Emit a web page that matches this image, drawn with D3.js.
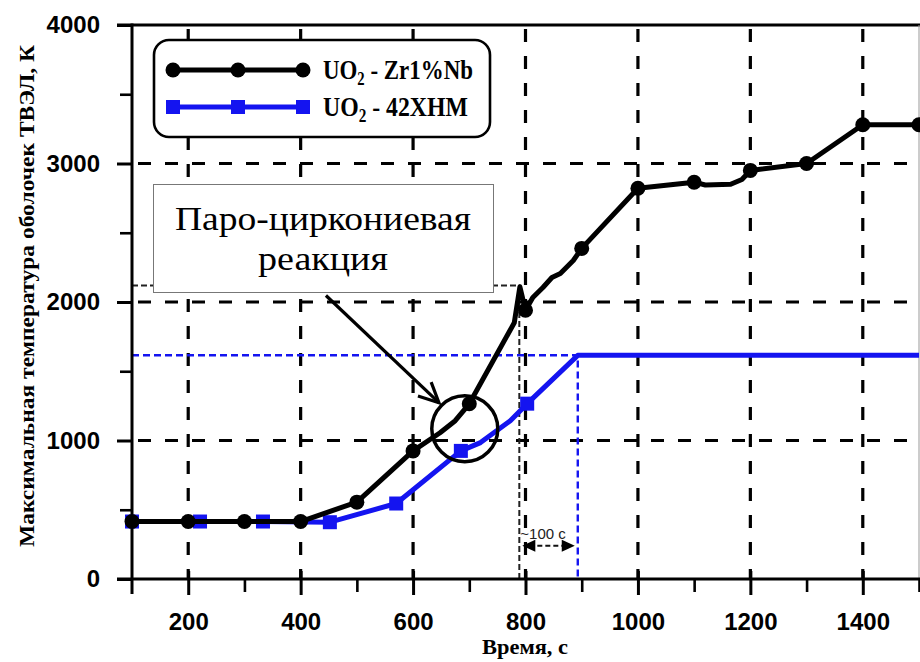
<!DOCTYPE html>
<html>
<head>
<meta charset="utf-8">
<script src="https://cdn.jsdelivr.net/npm/d3@7"></script>
<style>
  body { margin: 0; background: #fff; }
  svg { display: block; }
</style>
</head>
<body>
<div id="chart"></div>
<script>
// UO2 - Zr1%Nb cladding temperature (line points, incl. bends between markers)
const zrTime = [100, 200, 300, 400, 500, 600, 648, 675, 700, 780, 790, 800, 813, 831, 847, 862, 885, 900, 1000, 1100, 1120, 1165, 1185, 1200, 1300, 1400, 1500];
const zrTemp = [415, 415, 415, 415, 555, 925, 1056, 1143, 1265, 1850, 2110, 1940, 2033, 2105, 2177, 2206, 2300, 2387, 2821, 2865, 2845, 2850, 2885, 2950, 3000, 3280, 3280];
// marker points
const zrMarkTime = [100, 200, 300, 400, 500, 600, 700, 800, 900, 1000, 1100, 1200, 1300, 1400, 1500];
const zrMarkTemp = [415, 415, 415, 415, 555, 925, 1265, 1940, 2387, 2821, 2865, 2950, 3000, 3280, 3280];

// UO2 - 42XHM cladding temperature
const xhmTime = [100, 221, 333, 452, 570, 685, 720, 773, 803, 893, 1500];
const xhmTemp = [415, 415, 415, 410, 545, 925, 985, 1143, 1266, 1615, 1615];
const xhmMarkTime = [100, 221, 333, 452, 570, 685, 803];
const xhmMarkTemp = [415, 415, 415, 410, 545, 925, 1266];

// reference lines (dashed): black one at Zr reaction point, blue one at 42XHM plateau
const zrRef = { time: 789, temp: 2120 };
const xhmRef = { time: 893, temp: 1615 };

// axis ticks
const xMajor = [200, 400, 600, 800, 1000, 1200, 1400];
const xMinor = [300, 500, 700, 900, 1100, 1300, 1500];
const yMajor = [0, 1000, 2000, 3000, 4000];
const yMinor = [500, 1500, 2500, 3500];
const yGrid = [1000, 2000, 3000];

const legendLabels = ['UO', 'UO'];
const legendRest = [' - Zr1%Nb', ' - 42XHM'];

const W = 920, H = 662;
const numFont = "'Liberation Sans', Arial, sans-serif";
const serifFont = "'Liberation Serif', 'Times New Roman', serif";
const BLUE = '#1414f0';

const svg = d3.select('#chart').append('svg')
    .attr('width', W)
    .attr('height', H);

const x = d3.scaleLinear().domain([100, 1500]).range([132, 919]);
const y = d3.scaleLinear().domain([0, 4000]).range([579, 25]);

// squeeze a text horizontally so it takes a given width (the source fonts are narrow)
function fitWidth(sel, w, ax) {
    const len = sel.node().getComputedTextLength();
    const k = w / len;
    sel.attr('transform', `translate(${ax},0) scale(${k},1) translate(${-ax},0)`);
}

// grid
const grid = svg.append('g').attr('class', 'grid');
grid.selectAll('line.vg').data(xMajor).join('line')
    .attr('class', 'vg')
    .attr('x1', d => x(d)).attr('x2', d => x(d))
    .attr('y1', y(4000)).attr('y2', y(0))
    .attr('stroke', '#000').attr('stroke-width', 3.2)
    .attr('stroke-dasharray', '13,14')
    .attr('stroke-dashoffset', -4);
grid.selectAll('line.hg').data(yGrid).join('line')
    .attr('class', 'hg')
    .attr('x1', x(100)).attr('x2', x(1500))
    .attr('y1', d => y(d)).attr('y2', d => y(d))
    .attr('stroke', '#000').attr('stroke-width', 3.2)
    .attr('stroke-dasharray', '13,14')
    .attr('stroke-dashoffset', -6);

// reference dashed lines
svg.append('path')
    .attr('d', `M${x(100)},${y(zrRef.temp)} H${x(zrRef.time)} V${y(0)}`)
    .attr('fill', 'none').attr('stroke', '#222').attr('stroke-width', 2)
    .attr('stroke-dasharray', '6,3');
svg.append('path')
    .attr('d', `M${x(100)},${y(xhmRef.temp)} H${x(xhmRef.time)} V${y(0)}`)
    .attr('fill', 'none').attr('stroke', BLUE).attr('stroke-width', 2.4)
    .attr('stroke-dasharray', '7,4');

// axes frame
svg.append('line')
    .attr('x1', 117).attr('x2', W).attr('y1', y(4000)).attr('y2', y(4000))
    .attr('stroke', '#000').attr('stroke-width', 3);
svg.append('line')
    .attr('x1', x(1500)).attr('x2', x(1500)).attr('y1', y(4000)).attr('y2', y(0))
    .attr('stroke', '#999').attr('stroke-width', 1);

// x axis
const xAxis = svg.append('g')
    .attr('transform', `translate(0,${y(0)})`)
    .call(d3.axisBottom(x).tickValues(xMajor).tickSize(16).tickPadding(18).tickFormat(d3.format('d')));
xAxis.select('.domain').remove();
xAxis.selectAll('.tick line').attr('y1', -8).attr('stroke-width', 3);
xAxis.selectAll('text')
    .style('font-family', numFont).style('font-size', '24px').style('font-weight', 'bold').attr('fill', '#000');

const xAxisMinor = svg.append('g')
    .attr('transform', `translate(0,${y(0)})`)
    .call(d3.axisBottom(x).tickValues(xMinor).tickSize(13).tickFormat(''));
xAxisMinor.select('.domain').remove();
xAxisMinor.selectAll('.tick line').attr('stroke-width', 2.6);

svg.append('line')
    .attr('x1', 117).attr('x2', W).attr('y1', y(0)).attr('y2', y(0))
    .attr('stroke', '#000').attr('stroke-width', 3);

// y axis
const yAxis = svg.append('g')
    .attr('transform', `translate(${x(100)},0)`)
    .call(d3.axisLeft(y).tickValues(yMajor).tickSize(15).tickPadding(17).tickFormat(d3.format('d')));
yAxis.select('.domain').remove();
yAxis.selectAll('.tick line').attr('stroke-width', 3);
yAxis.selectAll('text')
    .style('font-family', numFont).style('font-size', '24px').style('font-weight', 'bold').attr('fill', '#000');

const yAxisMinor = svg.append('g')
    .attr('transform', `translate(${x(100)},0)`)
    .call(d3.axisLeft(y).tickValues(yMinor).tickSize(12).tickFormat(''));
yAxisMinor.select('.domain').remove();
yAxisMinor.selectAll('.tick line').attr('stroke-width', 2.6);

svg.append('line')
    .attr('x1', x(100)).attr('x2', x(100)).attr('y1', y(4000) - 1.5).attr('y2', y(0) + 15)
    .attr('stroke', '#000').attr('stroke-width', 3);

// axis titles
svg.append('text')
    .attr('x', 525).attr('y', 654)
    .attr('text-anchor', 'middle')
    .style('font-family', serifFont).style('font-weight', 'bold').style('font-size', '22px')
    .attr('textLength', 86).attr('lengthAdjust', 'spacingAndGlyphs')
    .text('Время, с');

svg.append('text')
    .attr('transform', 'translate(34,296) rotate(-90)')
    .attr('text-anchor', 'middle')
    .style('font-family', serifFont).style('font-weight', 'bold').style('font-size', '21px')
    .attr('textLength', 502).attr('lengthAdjust', 'spacingAndGlyphs')
    .text('Максимальная температура оболочек ТВЭЛ, К');

// series lines
const line = d3.line().x(d => x(d[0])).y(d => y(d[1]));

svg.append('path')
    .datum(d3.zip(xhmTime, xhmTemp))
    .attr('d', line)
    .attr('fill', 'none').attr('stroke', BLUE).attr('stroke-width', 5)
    .attr('stroke-linejoin', 'round');
svg.selectAll('rect.xhm').data(d3.zip(xhmMarkTime, xhmMarkTemp)).join('rect')
    .attr('class', 'xhm')
    .attr('x', d => x(d[0]) - 7).attr('y', d => y(d[1]) - 7)
    .attr('width', 14).attr('height', 14)
    .attr('fill', BLUE);

svg.append('path')
    .datum(d3.zip(zrTime, zrTemp))
    .attr('d', line)
    .attr('fill', 'none').attr('stroke', '#000').attr('stroke-width', 5)
    .attr('stroke-linejoin', 'round');
svg.selectAll('circle.zr').data(d3.zip(zrMarkTime, zrMarkTemp)).join('circle')
    .attr('class', 'zr')
    .attr('cx', d => x(d[0])).attr('cy', d => y(d[1]))
    .attr('r', 7.5)
    .attr('fill', '#000');

// "~100 с" interval between the two reference lines
const midTemp = 240;
svg.append('line')
    .attr('x1', x(zrRef.time) + 10).attr('x2', x(xhmRef.time) - 10)
    .attr('y1', y(midTemp)).attr('y2', y(midTemp))
    .attr('stroke', '#111').attr('stroke-width', 2).attr('stroke-dasharray', '5,3');
[[zrRef.time, 1], [xhmRef.time, -1]].forEach(([t, dir]) => {
    const px = x(t) + dir * 3, py = y(midTemp);
    svg.append('path')
        .attr('d', `M${px},${py} l${dir * 13},-6 l0,12 Z`)
        .attr('fill', '#000');
});
svg.append('text')
    .attr('x', x(zrRef.time) + 1).attr('y', y(midTemp) - 7)
    .style('font-family', numFont).style('font-size', '15px').attr('fill', '#222')
    .text('~100 с');

// annotation: steam-zirconium reaction
const circleAt = { time: 692, temp: 1085 };
const arrowFrom = { time: 445, temp: 2047 };
const arrowTo = { time: 646, temp: 1273 };

svg.append('circle')
    .attr('cx', x(circleAt.time)).attr('cy', y(circleAt.temp))
    .attr('r', 33)
    .attr('fill', 'none').attr('stroke', '#000').attr('stroke-width', 3.5);

const ax1 = x(arrowFrom.time), ay1 = y(arrowFrom.temp);
const ax2 = x(arrowTo.time), ay2 = y(arrowTo.temp);
const ang = Math.atan2(ay2 - ay1, ax2 - ax1);
const head = 22, spread = 0.45;
svg.append('line')
    .attr('x1', ax1).attr('y1', ay1).attr('x2', ax2).attr('y2', ay2)
    .attr('stroke', '#000').attr('stroke-width', 3.2);
svg.append('path')
    .attr('d', `M${ax2 - head * Math.cos(ang - spread)},${ay2 - head * Math.sin(ang - spread)}
                L${ax2},${ay2}
                L${ax2 - head * Math.cos(ang + spread)},${ay2 - head * Math.sin(ang + spread)}`)
    .attr('fill', 'none').attr('stroke', '#000').attr('stroke-width', 3.2)
    .attr('stroke-linejoin', 'miter');

const box = svg.append('g');
box.append('rect')
    .attr('x', 153.5).attr('y', 184.5).attr('width', 340).attr('height', 108)
    .attr('fill', '#fff').attr('stroke', '#777').attr('stroke-width', 1);
box.append('text')
    .attr('x', 323).attr('y', 230).attr('text-anchor', 'middle')
    .style('font-family', serifFont).style('font-size', '34px')
    .attr('textLength', 296).attr('lengthAdjust', 'spacingAndGlyphs')
    .text('Паро-циркониевая');
box.append('text')
    .attr('x', 323).attr('y', 270).attr('text-anchor', 'middle')
    .style('font-family', serifFont).style('font-size', '34px')
    .attr('textLength', 130).attr('lengthAdjust', 'spacingAndGlyphs')
    .text('реакция');

// legend
const legend = svg.append('g');
legend.append('rect')
    .attr('x', 154).attr('y', 40).attr('width', 336).attr('height', 97)
    .attr('rx', 15).attr('ry', 15)
    .attr('fill', '#fff').attr('stroke', '#000').attr('stroke-width', 2.6);

const legX = [173, 238, 303];
const legY = [70, 107];
legend.append('line')
    .attr('x1', legX[0]).attr('x2', legX[2]).attr('y1', legY[0]).attr('y2', legY[0])
    .attr('stroke', '#000').attr('stroke-width', 5);
legend.selectAll('circle').data(legX).join('circle')
    .attr('cx', d => d).attr('cy', legY[0]).attr('r', 7.5).attr('fill', '#000');
legend.append('line')
    .attr('x1', legX[0]).attr('x2', legX[2]).attr('y1', legY[1]).attr('y2', legY[1])
    .attr('stroke', BLUE).attr('stroke-width', 5);
legend.selectAll('rect.lm').data(legX).join('rect')
    .attr('class', 'lm')
    .attr('x', d => d - 7).attr('y', legY[1] - 7).attr('width', 14).attr('height', 14)
    .attr('fill', BLUE);

const legWidths = [150, 145];
legendLabels.forEach((lab, i) => {
    const t = legend.append('text')
        .attr('x', 323).attr('y', legY[i] + 9)
        .style('font-family', serifFont).style('font-weight', 'bold').style('font-size', '28px');
    t.append('tspan').text(lab);
    t.append('tspan').attr('dy', 6).style('font-size', '18px').text('2');
    t.append('tspan').attr('dy', -6).text(legendRest[i]);
    fitWidth(t, legWidths[i], 323);
});
</script>
</body>
</html>
